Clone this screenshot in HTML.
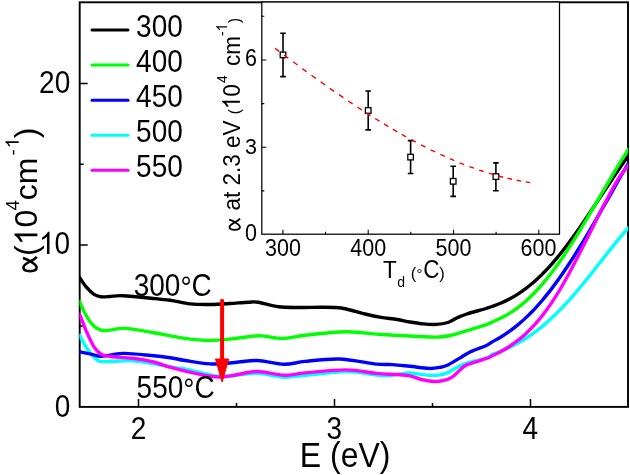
<!DOCTYPE html>
<html><head><meta charset="utf-8"><title>chart</title>
<style>html,body{margin:0;padding:0;background:#fff;}body{width:630px;height:475px;overflow:hidden;font-family:"Liberation Sans",sans-serif;}svg{display:block;}text{font-family:"Liberation Sans",sans-serif;fill:#000;white-space:pre;}</style>
</head><body>
<svg width="630" height="475" viewBox="0 0 630 475">
<rect x="0" y="0" width="630" height="475" fill="#fff"/>
<defs><clipPath id="mc"><rect x="79.4" y="2.3" width="548.9" height="404.6"/></clipPath></defs>
<rect x="79.7" y="2.3" width="548.3" height="404.6" fill="none" stroke="#000" stroke-width="1.9"/>
<path d="M138.5,406.9V398.9M236.5,406.9V402.9M334.5,406.9V398.9M432.5,406.9V402.9M530.5,406.9V398.9M79.7,325.9H83.7M79.7,245.1H87.7M79.7,164.2H83.7M79.7,83.4H87.7" stroke="#000" stroke-width="1.5" fill="none"/>
<g fill="none" stroke-width="3.4" stroke-linecap="round" stroke-linejoin="round" clip-path="url(#mc)">
<path stroke="#000" d="M79.7,277.6C80.8,279.2 84.0,284.4 86.4,287.2C88.8,290.0 91.6,292.8 94.0,294.4C96.4,296.0 98.0,296.3 100.7,296.7C103.4,297.1 106.3,296.7 110.0,296.5C113.7,296.3 115.7,295.4 122.6,295.7C129.5,296.0 143.3,297.4 151.2,298.2C159.1,299.0 163.7,299.4 170.2,300.3C176.7,301.2 183.3,303.2 190.0,303.9C196.7,304.6 203.6,304.6 210.3,304.5C217.0,304.4 223.7,303.9 230.0,303.5C236.3,303.1 243.5,302.4 248.2,302.2C252.9,302.0 253.2,301.4 258.3,302.2C263.4,303.0 271.6,305.9 278.5,306.8C285.4,307.7 293.1,307.4 300.0,307.5C306.9,307.6 314.2,307.3 320.0,307.3C325.8,307.3 330.3,307.2 334.7,307.5C339.1,307.8 341.2,307.9 346.3,309.0C351.4,310.1 359.2,312.6 365.0,314.0C370.8,315.4 375.7,316.5 381.1,317.4C386.5,318.3 392.5,318.7 397.3,319.5C402.1,320.3 405.7,321.3 410.0,322.0C414.3,322.7 418.9,323.5 423.3,323.9C427.7,324.3 432.4,324.6 436.5,324.4C440.6,324.2 444.4,323.6 447.9,322.5C451.4,321.4 454.1,319.1 457.3,317.7C460.5,316.3 462.1,315.5 466.8,314.0C471.6,312.5 481.6,309.8 485.8,308.5C490.0,307.2 489.6,307.4 492.0,306.5C494.4,305.6 497.7,304.5 500.5,303.3C503.3,302.1 506.2,300.8 509.0,299.3C511.8,297.8 514.7,296.2 517.5,294.4C520.3,292.6 523.2,290.5 526.0,288.4C528.8,286.2 531.7,284.0 534.5,281.5C537.3,279.0 540.2,276.3 543.0,273.4C545.8,270.5 548.7,267.5 551.5,264.3C554.3,261.1 557.2,257.7 560.0,254.2C562.8,250.7 565.7,247.0 568.5,243.2C571.3,239.4 574.2,235.5 577.0,231.5C579.8,227.5 582.7,223.4 585.5,219.2C588.3,215.0 591.2,210.8 594.0,206.5C596.8,202.2 599.7,197.9 602.5,193.7C605.3,189.4 608.2,185.2 611.0,181.0C613.8,176.8 616.6,172.5 619.5,168.3C622.4,164.1 627.0,157.7 628.5,155.6"/>
<path stroke="#00ff00" d="M79.7,301.8C80.8,304.2 84.0,311.9 86.4,316.0C88.8,320.1 91.5,323.9 94.0,326.3C96.5,328.7 99.0,329.7 101.7,330.3C104.4,330.9 106.2,330.4 110.0,330.1C113.8,329.8 117.6,328.0 124.5,328.4C131.4,328.8 141.1,330.5 151.2,332.2C161.3,333.9 175.2,337.0 185.0,338.4C194.8,339.8 201.5,340.5 209.8,340.5C218.1,340.5 226.8,339.3 235.0,338.5C243.2,337.7 251.5,335.7 259.3,335.7C267.2,335.7 274.5,338.7 282.1,338.6C289.7,338.5 294.3,336.5 305.0,335.3C315.7,334.1 333.6,331.8 346.3,331.7C359.0,331.6 370.5,333.8 381.1,334.5C391.7,335.2 400.8,335.6 410.0,336.0C419.2,336.4 429.6,337.2 436.5,337.1C443.4,337.0 446.6,336.3 451.7,335.2C456.8,334.1 461.1,332.4 466.8,330.7C472.5,329.0 481.6,326.3 485.8,324.9C490.0,323.5 489.6,323.2 492.0,322.1C494.4,321.0 497.7,319.7 500.5,318.3C503.3,316.9 506.2,315.4 509.0,313.6C511.8,311.9 514.7,309.9 517.5,307.8C520.3,305.7 523.2,303.4 526.0,300.9C528.8,298.4 531.7,295.6 534.5,292.7C537.3,289.8 540.2,286.6 543.0,283.3C545.8,280.0 548.7,276.5 551.5,272.8C554.3,269.1 557.2,265.2 560.0,261.2C562.8,257.2 565.7,252.9 568.5,248.6C571.3,244.2 574.2,239.7 577.0,235.1C579.8,230.5 582.7,225.8 585.5,221.0C588.3,216.2 591.2,211.4 594.0,206.6C596.8,201.8 599.7,196.8 602.5,192.0C605.3,187.2 608.2,182.5 611.0,177.7C613.8,172.9 616.6,168.2 619.5,163.4C622.4,158.7 627.0,151.6 628.5,149.2"/>
<path stroke="#00ffff" d="M79.7,335.2C80.8,337.3 84.0,344.0 86.4,347.6C88.8,351.2 91.8,354.8 94.0,357.1C96.2,359.4 96.6,360.6 99.8,361.3C103.0,362.0 107.7,361.4 113.1,361.3C118.5,361.2 125.8,360.4 132.1,360.7C138.4,361.0 144.8,362.1 151.2,363.2C157.5,364.2 164.6,366.0 170.2,367.0C175.8,368.0 178.4,367.7 185.0,369.0C191.6,370.3 203.6,373.6 209.8,374.8C216.0,376.1 217.8,376.4 222.0,376.5C226.2,376.6 229.1,376.0 235.0,375.5C240.9,375.0 249.2,373.1 257.4,373.4C265.6,373.7 276.1,376.9 284.0,377.2C291.9,377.5 294.6,376.2 305.0,375.3C315.4,374.4 334.4,371.6 346.3,371.5C358.2,371.4 369.1,374.3 376.4,375.0C383.7,375.7 386.1,375.7 390.0,375.5C393.9,375.3 396.7,374.4 400.0,374.0C403.3,373.6 405.2,372.8 410.0,373.0C414.8,373.2 423.8,375.0 428.9,375.3C433.9,375.6 437.1,375.3 440.3,374.9C443.5,374.4 445.1,373.9 447.9,372.6C450.7,371.3 454.1,368.9 457.3,367.3C460.5,365.7 462.1,364.6 466.8,363.1C471.6,361.6 481.6,359.7 485.8,358.3C490.0,356.9 489.6,355.7 492.0,354.5C494.4,353.3 497.7,352.4 500.5,351.3C503.3,350.2 506.2,348.9 509.0,347.6C511.8,346.3 514.7,344.9 517.5,343.3C520.3,341.8 523.2,340.1 526.0,338.3C528.8,336.5 531.7,334.5 534.5,332.4C537.3,330.3 540.2,328.1 543.0,325.7C545.8,323.3 548.7,320.8 551.5,318.2C554.3,315.6 557.2,312.8 560.0,309.9C562.8,307.0 565.7,303.9 568.5,300.8C571.3,297.7 574.2,294.4 577.0,291.1C579.8,287.8 582.7,284.3 585.5,280.8C588.3,277.3 591.2,273.8 594.0,270.2C596.8,266.6 599.7,263.0 602.5,259.4C605.3,255.8 608.2,252.1 611.0,248.6C613.8,245.1 616.6,241.7 619.5,238.2C622.4,234.7 627.0,229.4 628.5,227.7"/>
<path stroke="#0000ff" d="M79.7,351.8C81.4,352.1 86.7,353.1 90.0,353.8C93.3,354.5 96.5,356.0 99.8,356.2C103.1,356.4 105.9,355.7 110.0,355.2C114.1,354.7 117.6,353.3 124.5,353.4C131.4,353.4 143.6,354.8 151.2,355.5C158.8,356.2 164.6,356.9 170.2,357.7C175.8,358.5 178.4,359.5 185.0,360.5C191.6,361.5 201.5,363.6 209.8,363.9C218.1,364.2 227.1,363.1 235.0,362.5C242.9,361.9 249.2,360.2 257.4,360.5C265.6,360.8 276.1,364.2 284.0,364.3C291.9,364.4 295.8,362.3 305.0,361.4C314.2,360.5 327.5,358.6 339.4,359.0C351.3,359.4 367.5,363.2 376.4,364.1C385.3,365.0 387.1,364.2 392.7,364.6C398.3,365.0 404.0,365.7 410.0,366.3C416.0,366.9 423.8,368.2 428.9,368.4C433.9,368.6 437.1,367.9 440.3,367.3C443.5,366.7 444.8,366.5 447.9,365.0C451.0,363.5 455.4,360.6 459.2,358.4C463.0,356.2 466.2,353.8 470.6,351.7C475.0,349.6 482.2,347.3 485.8,345.7C489.4,344.1 489.6,343.4 492.0,342.0C494.4,340.6 497.7,338.9 500.5,337.2C503.3,335.5 506.2,333.6 509.0,331.6C511.8,329.6 514.7,327.4 517.5,325.1C520.3,322.8 523.2,320.3 526.0,317.6C528.8,314.9 531.7,312.1 534.5,309.1C537.3,306.1 540.2,302.9 543.0,299.5C545.8,296.1 548.7,292.6 551.5,288.9C554.3,285.2 557.2,281.3 560.0,277.3C562.8,273.3 565.7,269.1 568.5,264.8C571.3,260.5 574.2,256.0 577.0,251.5C579.8,247.0 582.7,242.3 585.5,237.6C588.3,232.9 591.2,228.0 594.0,223.1C596.8,218.2 599.7,213.3 602.5,208.4C605.3,203.5 608.2,198.6 611.0,193.6C613.8,188.6 616.6,183.6 619.5,178.5C622.4,173.4 627.0,165.6 628.5,163.0"/>
<path stroke="#ff00ff" d="M79.7,314.3C80.8,317.1 84.0,326.0 86.4,331.4C88.8,336.8 91.5,343.0 94.0,346.9C96.5,350.8 98.5,352.9 101.7,354.5C104.9,356.1 108.0,356.2 113.1,356.8C118.2,357.4 125.8,357.5 132.1,358.3C138.4,359.1 144.8,360.0 151.2,361.5C157.5,363.0 164.6,365.6 170.2,367.2C175.8,368.8 178.4,369.5 185.0,371.0C191.6,372.5 203.6,375.3 209.8,376.3C216.0,377.3 217.7,377.2 222.0,377.0C226.3,376.8 229.6,375.9 235.5,375.0C241.4,374.1 249.3,371.4 257.4,371.5C265.5,371.6 276.1,375.1 284.0,375.3C291.9,375.5 294.6,373.8 305.0,372.9C315.4,372.0 334.4,369.8 346.3,369.9C358.2,370.0 367.9,372.6 376.4,373.4C384.9,374.2 391.7,374.1 397.3,374.5C402.9,374.9 406.0,375.0 410.0,375.8C414.0,376.6 417.3,378.6 421.4,379.5C425.5,380.4 430.8,381.4 434.6,381.5C438.4,381.6 441.2,381.0 444.1,380.3C447.0,379.6 449.2,379.0 451.7,377.4C454.2,375.8 456.7,372.8 459.2,370.7C461.7,368.6 462.4,366.9 466.8,364.9C471.2,362.9 481.6,360.2 485.8,358.7C490.0,357.2 489.6,357.1 492.0,355.9C494.4,354.7 497.7,353.2 500.5,351.7C503.3,350.2 506.2,348.5 509.0,346.7C511.8,344.9 514.7,342.9 517.5,340.7C520.3,338.5 523.2,336.0 526.0,333.4C528.8,330.8 531.7,327.9 534.5,324.8C537.3,321.7 540.2,318.4 543.0,314.7C545.8,311.0 548.7,307.1 551.5,302.9C554.3,298.7 557.2,294.2 560.0,289.5C562.8,284.8 565.7,279.7 568.5,274.5C571.3,269.3 574.2,263.7 577.0,258.2C579.8,252.7 582.7,247.3 585.5,241.7C588.3,236.1 591.2,230.5 594.0,224.8C596.8,219.1 599.7,213.1 602.5,207.6C605.3,202.1 608.2,196.8 611.0,191.7C613.8,186.6 616.6,181.3 619.5,176.9C622.4,172.5 627.0,167.3 628.5,165.4"/>
</g>
<rect x="261.8" y="2.0" width="297.7" height="232.2" fill="#fff" stroke="none"/>
<rect x="261.8" y="2.0" width="297.7" height="232.2" fill="none" stroke="#000" stroke-width="1.25"/>
<path d="M282.9,234.2V229.7M325.5,234.2V231.7M368.2,234.2V229.7M410.8,234.2V231.7M453.5,234.2V229.7M496.1,234.2V231.7M538.8,234.2V229.7M261.8,190.9H264.3M261.8,147.3H266.3M261.8,103.6H264.3M261.8,60.0H266.3M261.8,16.3H264.3" stroke="#000" stroke-width="1.1" fill="none"/>
<path d="M283.0,33.3V76.6M280.2,33.3H285.8M280.2,76.6H285.8" stroke="#000" stroke-width="1.6" fill="none"/>
<rect x="280.2" y="52.1" width="5.6" height="5.6" fill="#fff" stroke="#000" stroke-width="1.3"/>
<path d="M368.2,91.0V129.9M365.4,91.0H371.0M365.4,129.9H371.0" stroke="#000" stroke-width="1.6" fill="none"/>
<rect x="365.4" y="107.7" width="5.6" height="5.6" fill="#fff" stroke="#000" stroke-width="1.3"/>
<path d="M410.6,140.6V173.5M407.8,140.6H413.4M407.8,173.5H413.4" stroke="#000" stroke-width="1.6" fill="none"/>
<rect x="407.8" y="154.3" width="5.6" height="5.6" fill="#fff" stroke="#000" stroke-width="1.3"/>
<path d="M453.2,166.3V196.4M450.4,166.3H456.0M450.4,196.4H456.0" stroke="#000" stroke-width="1.6" fill="none"/>
<rect x="450.4" y="178.5" width="5.6" height="5.6" fill="#fff" stroke="#000" stroke-width="1.3"/>
<path d="M495.9,162.9V190.7M493.1,162.9H498.7M493.1,190.7H498.7" stroke="#000" stroke-width="1.6" fill="none"/>
<rect x="493.1" y="173.8" width="5.6" height="5.6" fill="#fff" stroke="#000" stroke-width="1.3"/>
<path d="M274.9,48.2L279.2,51.4M284.0,55.0L288.3,58.2M293.2,61.8L297.5,65.0M302.3,68.6L306.6,71.7M311.5,75.2L315.8,78.4M320.6,81.8L325.0,84.9M329.8,88.3L334.2,91.3M339.0,94.7L343.4,97.7M348.2,101.0L352.6,103.9M357.5,107.1L361.8,110.0M366.3,112.9L370.6,115.6M375.1,118.5L379.5,121.2M384.0,123.9L388.4,126.6M392.9,129.2L397.2,131.8M401.8,134.4L406.1,136.8M411.4,139.7L415.8,142.1M421.0,144.9L425.4,147.1M430.7,149.8L435.1,151.9M440.4,154.4L444.8,156.4M450.0,158.7L454.4,160.6M459.7,162.8L464.1,164.6M469.4,166.6L473.9,168.2M479.2,170.1L483.6,171.5M488.9,173.2L493.3,174.5M498.6,176.0L503.1,177.2M507.6,178.3L512.1,179.3M516.7,180.3L521.1,181.1M525.7,181.9L530.2,182.6" stroke="#ff0000" stroke-width="1.4" fill="none"/>
<path d="M222.1,300.8V362" stroke="#ff0000" stroke-width="4" stroke-linecap="round" fill="none"/>
<path d="M215.5,359.0H228.7L222.1,382.0Z" fill="#ff0000" stroke="#ff0000" stroke-width="1" stroke-linejoin="round"/>
<g style="filter:opacity(1)">
<path d="M92,30.1H128" stroke="#000" stroke-width="3" stroke-linecap="round" fill="none"/>
<g transform="translate(136.10,36.80) scale(1.000,1.130)"><g transform="translate(0.00,0.00) scale(1,1.000)"><text xml:space="preserve" x="0.00" y="0" font-size="28">300</text></g></g>
<path d="M92,65.1H128" stroke="#00ff00" stroke-width="3" stroke-linecap="round" fill="none"/>
<g transform="translate(136.10,71.80) scale(1.000,1.130)"><g transform="translate(0.00,0.00) scale(1,1.000)"><text xml:space="preserve" x="0.00" y="0" font-size="28">400</text></g></g>
<path d="M92,100.2H128" stroke="#0000ff" stroke-width="3" stroke-linecap="round" fill="none"/>
<g transform="translate(136.10,106.80) scale(1.000,1.130)"><g transform="translate(0.00,0.00) scale(1,1.000)"><text xml:space="preserve" x="0.00" y="0" font-size="28">450</text></g></g>
<path d="M92,135.2H128" stroke="#00ffff" stroke-width="3" stroke-linecap="round" fill="none"/>
<g transform="translate(136.10,141.80) scale(1.000,1.130)"><g transform="translate(0.00,0.00) scale(1,1.000)"><text xml:space="preserve" x="0.00" y="0" font-size="28">500</text></g></g>
<path d="M92,170.2H128" stroke="#ff00ff" stroke-width="3" stroke-linecap="round" fill="none"/>
<g transform="translate(136.10,176.80) scale(1.000,1.130)"><g transform="translate(0.00,0.00) scale(1,1.000)"><text xml:space="preserve" x="0.00" y="0" font-size="28">550</text></g></g>
<g transform="translate(70.20,92.50) scale(1.000,1.100)"><g transform="translate(-31.14,0.00) scale(1,1.000)"><text xml:space="preserve" x="0.00" y="0" font-size="28">20</text></g></g>
<g transform="translate(70.20,254.00) scale(1.000,1.100)"><g transform="translate(-31.14,0.00) scale(1,1.000)"><path transform="translate(0.00,0) scale(0.01367,-0.01367)" d="M763,0H583V1147Q518,1085 412.5,1023Q307,961 223,930V1104Q374,1175 487,1276Q600,1377 647,1472H763Z"/><text xml:space="preserve" x="15.57" y="0" font-size="28">0</text></g></g>
<g transform="translate(70.20,416.70) scale(1.000,1.100)"><g transform="translate(-15.57,0.00) scale(1,1.000)"><text xml:space="preserve" x="0.00" y="0" font-size="28">0</text></g></g>
<g transform="translate(138.50,439.40) scale(1.000,1.100)"><g transform="translate(-7.79,0.00) scale(1,1.000)"><text xml:space="preserve" x="0.00" y="0" font-size="28">2</text></g></g>
<g transform="translate(334.30,439.40) scale(1.000,1.100)"><g transform="translate(-7.79,0.00) scale(1,1.000)"><text xml:space="preserve" x="0.00" y="0" font-size="28">3</text></g></g>
<g transform="translate(530.20,439.40) scale(1.000,1.100)"><g transform="translate(-7.79,0.00) scale(1,1.000)"><text xml:space="preserve" x="0.00" y="0" font-size="28">4</text></g></g>
<g transform="translate(345.20,466.70) scale(1.000,1.080)"><g transform="translate(-45.34,0.00) scale(1,1.000)"><text xml:space="preserve" x="0.00" y="0" font-size="32">E (eV)</text></g></g>
<g transform="translate(37.40,256.00) rotate(-90)"><g transform="translate(0.00,0.00) scale(1,1.000)"><text xml:space="preserve" x="0.00" y="0" font-size="32">(</text><path transform="translate(10.66,0) scale(0.01562,-0.01562)" d="M763,0H583V1147Q518,1085 412.5,1023Q307,961 223,930V1104Q374,1175 487,1276Q600,1377 647,1472H763Z"/><text xml:space="preserve" x="28.45" y="0" font-size="32">0</text></g><g transform="translate(45.45,-18.70) scale(1,1.000)"><text xml:space="preserve" x="0.00" y="0" font-size="18.5">4</text></g><g transform="translate(55.74,0.00) scale(1,1.000)"><text xml:space="preserve" x="0.00" y="0" font-size="32">cm</text></g><g transform="translate(100.60,-18.70) scale(1,1.000)"><text xml:space="preserve" x="0.00" y="0" font-size="18.5">-</text></g><g transform="translate(107.76,-18.70) scale(1,1.000)"><path transform="translate(0.00,0) scale(0.00903,-0.00903)" d="M763,0H583V1147Q518,1085 412.5,1023Q307,961 223,930V1104Q374,1175 487,1276Q600,1377 647,1472H763Z"/></g><g transform="translate(117.74,0.00) scale(1,1.000)"><text xml:space="preserve" x="0.00" y="0" font-size="32">)</text></g></g>
<path d="M22.9,258C26,259 29,260 30.3,261.4C34,263.5 36.6,265 36.6,267.5C36.6,270 33.5,271.1 30,271.1C26.5,271.1 23.4,270 23.4,267.5C23.4,265 26.5,263.4 30.3,261.4C33,260 35.5,258.5 36.7,256.8" fill="none" stroke="#000" stroke-width="2.6"/>
<g transform="translate(133.70,295.60) scale(1.000,1.090)"><g transform="translate(0.00,0.00) scale(1,1.000)"><text xml:space="preserve" x="0.00" y="0" font-size="28">300</text></g><g transform="translate(46.72,2.00) scale(1,1.000)"><text xml:space="preserve" x="0.00" y="0" font-size="28">°</text></g><g transform="translate(57.91,0.00) scale(1,1.000)"><text xml:space="preserve" x="0.00" y="0" font-size="28">C</text></g></g>
<g transform="translate(136.60,397.60) scale(1.000,1.090)"><g transform="translate(0.00,0.00) scale(1,1.000)"><text xml:space="preserve" x="0.00" y="0" font-size="28">550</text></g><g transform="translate(46.72,2.00) scale(1,1.000)"><text xml:space="preserve" x="0.00" y="0" font-size="28">°</text></g><g transform="translate(57.91,0.00) scale(1,1.000)"><text xml:space="preserve" x="0.00" y="0" font-size="28">C</text></g></g>
<g transform="translate(283.00,256.40) scale(1.000,1.070)"><g transform="translate(-17.94,0.00) scale(1,1.000)"><text xml:space="preserve" x="0.00" y="0" font-size="21.5">300</text></g></g>
<g transform="translate(368.20,256.40) scale(1.000,1.070)"><g transform="translate(-17.94,0.00) scale(1,1.000)"><text xml:space="preserve" x="0.00" y="0" font-size="21.5">400</text></g></g>
<g transform="translate(453.50,256.40) scale(1.000,1.070)"><g transform="translate(-17.94,0.00) scale(1,1.000)"><text xml:space="preserve" x="0.00" y="0" font-size="21.5">500</text></g></g>
<g transform="translate(538.50,256.40) scale(1.000,1.070)"><g transform="translate(-17.94,0.00) scale(1,1.000)"><text xml:space="preserve" x="0.00" y="0" font-size="21.5">600</text></g></g>
<g transform="translate(257.00,66.00) scale(1.000,1.080)"><g transform="translate(-11.96,0.00) scale(1,1.000)"><text xml:space="preserve" x="0.00" y="0" font-size="21.5">6</text></g></g>
<g transform="translate(257.00,154.30) scale(1.000,1.030)"><g transform="translate(-11.96,0.00) scale(1,1.000)"><text xml:space="preserve" x="0.00" y="0" font-size="21.5">3</text></g></g>
<g transform="translate(257.00,240.60) scale(1.000,1.130)"><g transform="translate(-11.96,0.00) scale(1,1.000)"><text xml:space="preserve" x="0.00" y="0" font-size="21.5">0</text></g></g>
<g transform="translate(383.00,277.80)"><g transform="translate(0.00,0.00) scale(1,1.100)"><text xml:space="preserve" x="0.00" y="0" font-size="22.5">T</text></g><g transform="translate(14.24,9.60) scale(1,1.000)"><text xml:space="preserve" x="0.00" y="0" font-size="14">d</text></g><g transform="translate(27.83,1.30) scale(1,1.000)"><text xml:space="preserve" x="0.00" y="0" font-size="16.5">(</text></g><g transform="translate(33.62,0.80) scale(1,1.000)"><text xml:space="preserve" x="0.00" y="0" font-size="15">°</text></g><g transform="translate(40.22,0.40) scale(1,1.170)"><text xml:space="preserve" x="0.00" y="0" font-size="22.5">C</text></g><g transform="translate(56.17,1.30) scale(1,1.000)"><text xml:space="preserve" x="0.00" y="0" font-size="16.5">)</text></g></g>
<g transform="translate(239.90,229.70) rotate(-90) scale(1.000,1.100)"><g transform="translate(13.00,0.00) scale(1,1.000)"><text xml:space="preserve" x="0.00" y="0" font-size="22.5"> at 2.3 eV </text></g><g transform="translate(115.57,-0.30) scale(1,1.000)"><text xml:space="preserve" x="0.00" y="0" font-size="15">(</text></g><g transform="translate(120.56,0.00) scale(1,1.000)"><path transform="translate(0.00,0) scale(0.01099,-0.01099)" d="M763,0H583V1147Q518,1085 412.5,1023Q307,961 223,930V1104Q374,1175 487,1276Q600,1377 647,1472H763Z"/><text xml:space="preserve" x="12.51" y="0" font-size="22.5">0</text></g><g transform="translate(146.59,-11.60) scale(1,1.000)"><text xml:space="preserve" x="0.00" y="0" font-size="14">4</text></g><g transform="translate(157.38,0.00) scale(1,1.000)"><text xml:space="preserve" x="0.00" y="0" font-size="22.5"> cm</text></g><g transform="translate(193.62,-11.60) scale(1,1.000)"><text xml:space="preserve" x="0.00" y="0" font-size="14">-</text><path transform="translate(4.66,0) scale(0.00684,-0.00684)" d="M763,0H583V1147Q518,1085 412.5,1023Q307,961 223,930V1104Q374,1175 487,1276Q600,1377 647,1472H763Z"/></g><g transform="translate(206.77,-0.30) scale(1,1.000)"><text xml:space="preserve" x="0.00" y="0" font-size="15">)</text></g></g>
<path transform="translate(228.4,218.0) scale(0.79)" d="M0.9,2C4,3 7,4 8.3,5.4C12,7.5 14.6,9 14.6,11.5C14.6,14 11.5,15.1 8,15.1C4.5,15.1 1.4,14 1.4,11.5C1.4,9 4.5,7.4 8.3,5.4C11,4 13.5,2.5 14.7,0.8" fill="none" stroke="#000" stroke-width="2.3"/>
</g>
</svg>
</body></html>
